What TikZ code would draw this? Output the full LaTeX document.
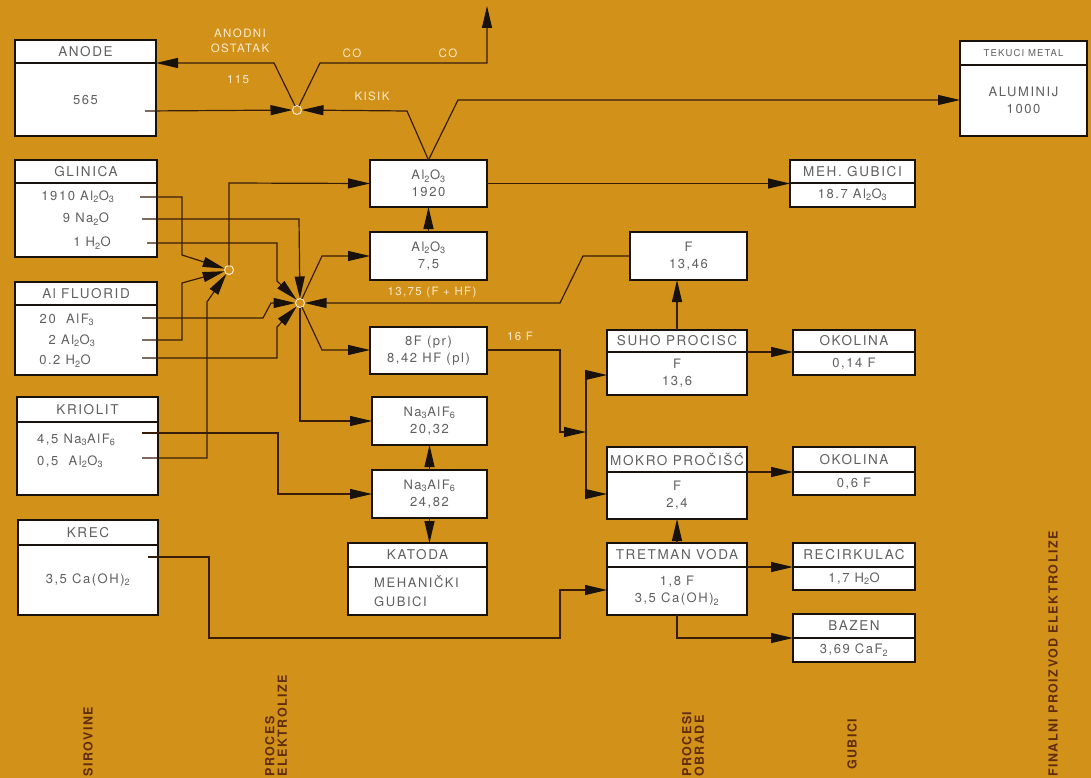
\documentclass[tikz,border=0pt]{standalone}
\usepackage{fontspec}
\setmainfont{TeX Gyre Heros}[LetterSpace=12]
\usetikzlibrary{arrows.meta}
\definecolor{bg}{RGB}{210,146,26}
\definecolor{ln}{RGB}{55,28,8}
\definecolor{bx}{RGB}{25,18,12}
\definecolor{tx}{RGB}{95,95,95}
\definecolor{lt}{RGB}{250,234,205}
\definecolor{dk}{RGB}{95,45,12}
\newcommand{\sbs}[1]{\textsubscript{#1}}
% name, x1, y1, x2, y2, ysep, header, body
\newcommand{\flowbox}[8]{%
  \node[boxst, anchor=north west, minimum width={#4-#2}, minimum height={#5-#3}] (#1) at (#2,#3) {};
  \draw[sepst] (#1.west |- 0,#6) -- (#1.east |- 0,#6);
  \node[hdrst] (#1h) at ({(#2+#4)/2},{(#3+#6)/2}) {#7};
  \node[bodyst] (#1b) at ({(#2+#4)/2},{(#6+#5)/2}) {#8};
}
% name, x1, y1, x2, y2, text
\newcommand{\plainbox}[6]{%
  \node[boxst, anchor=north west, minimum width={#4-#2}, minimum height={#5-#3}] (#1) at (#2,#3) {};
  \node[bodyst] (#1b) at ({(#2+#4)/2},{(#3+#5)/2}) {#6};
}
\begin{document}
\begin{tikzpicture}[x=1pt,y=-1pt,
  boxst/.style={draw=bx, line width=2.2pt, fill=white, inner sep=0pt, outer sep=0pt},
  sepst/.style={draw=bx, line width=2pt},
  hdrst/.style={text=tx, font=\fontsize{13.5}{15}\selectfont, inner sep=0pt},
  bodyst/.style={text=tx, font=\fontsize{13}{17}\selectfont, inner sep=0pt, align=center},
  txt/.style={text=tx, font=\fontsize{13}{15}\selectfont, inner sep=0pt},
  conn/.style={draw=ln, line width=1.2pt},
  arr/.style={conn, -{Triangle[length=22pt,width=10pt,color=bx,fill=bx]}},
  hubst/.style={circle, draw=lt, line width=1pt, fill=bg, minimum size=9pt, inner sep=0pt, outer sep=0pt},
  lab/.style={text=lt, font=\fontsize{11.5}{15}\selectfont, inner sep=0pt, align=center},
  vlab/.style={text=dk, font=\bfseries\fontsize{12.5}{12.5}\selectfont, rotate=90, anchor=west, align=left, inner sep=0pt}
]
\useasboundingbox (0,0) rectangle (1091,778);
\fill[bg] (0,0) rectangle (1091,778);

% ---------- boxes ----------
\flowbox{anode}{15}{40}{156}{136}{63}{ANODE}{565}
\flowbox{alum}{960}{41}{1087}{136}{65}{\fontsize{9.5}{11}\selectfont TEKUCI METAL}{ALUMINIJ\\1000}
\flowbox{glin}{15}{160}{157}{257}{183}{GLINICA}{}
\flowbox{fluo}{15}{282}{157}{375}{305}{Al FLUORID}{}
\flowbox{krio}{17}{397}{158}{495}{422}{KRIOLIT}{}
\flowbox{krec}{18}{520}{158}{615}{545}{KREC}{3,5 Ca(OH)\sbs{2}}

\plainbox{alA}{370}{160}{487}{207}{Al\sbs{2}O\sbs{3}\\1920}
\plainbox{alB}{370}{232}{487}{280}{Al\sbs{2}O\sbs{3}\\7,5}
\plainbox{bf}{370}{327}{487}{374}{8F (pr)\\8,42 HF (pl)}
\plainbox{naA}{372}{397}{487}{445}{Na\sbs{3}AlF\sbs{6}\\20,32}
\plainbox{naB}{372}{470}{487}{518}{Na\sbs{3}AlF\sbs{6}\\24,82}
\flowbox{kat}{348}{543}{487}{615}{567}{KATODA}{}
\node[txt, anchor=west, align=left, font=\fontsize{13}{19}\selectfont] (katt) at (374,591) {MEHANIČKI\\GUBICI};

\flowbox{meh}{790}{160}{915}{207}{183}{MEH. GUBICI}{18.7 Al\sbs{2}O\sbs{3}}
\plainbox{fF}{630}{232}{747}{280}{F\\13,46}
\flowbox{suho}{607}{330}{747}{395}{352}{SUHO PROCISC}{F\\13,6}
\flowbox{okA}{793}{330}{915}{375}{352}{OKOLINA}{0,14 F}
\flowbox{mok}{607}{447}{747}{519}{472}{MOKRO PROČIŠĆ}{F\\2,4}
\flowbox{okB}{793}{447}{915}{495}{472}{OKOLINA}{0,6 F}
\flowbox{tret}{607}{543}{747}{615}{567}{TRETMAN VODA}{1,8 F\\3,5 Ca(OH)\sbs{2}}
\flowbox{rec}{793}{543}{915}{590}{567}{RECIRKULAC}{1,7 H\sbs{2}O}
\flowbox{baz}{793}{614}{915}{662}{638}{BAZEN}{3,69 CaF\sbs{2}}

% body texts of raw material boxes
\node[txt] (g1) at (78,197) {1910 Al\sbs{2}O\sbs{3}};
\node[txt] (g2) at (86,219) {9 Na\sbs{2}O};
\node[txt] (g3) at (92,243) {1 H\sbs{2}O};
\node[txt] (f1) at (67,320) {20\ \ AlF\sbs{3}};
\node[txt] (f2) at (72,341) {2 Al\sbs{2}O\sbs{3}};
\node[txt] (f3) at (65,361) {0.2 H\sbs{2}O};
\node[txt, anchor=west] (k1) at (37,440) {4,5 Na\sbs{3}AlF\sbs{6}};
\node[txt, anchor=west] (k2) at (37,462) {0,5\ \ Al\sbs{2}O\sbs{3}};

% ---------- hubs and free ends ----------
\node[hubst] (h0) at (297,110) {};
\node[hubst] (h1) at (229,270) {};
\node[hubst] (h2) at (300,303) {};
\coordinate (coOut) at (487,6);
\coordinate (anS) at (145,111);
\coordinate (gA) at (140,197);
\coordinate (gN) at (142,219);
\coordinate (gH) at (147,243);
\coordinate (fA) at (142,318);
\coordinate (fB) at (142,340);
\coordinate (fH) at (142,358);
\coordinate (kA) at (142,433);
\coordinate (kB) at (142,458);
\coordinate (kcS) at (148,557);
\coordinate (split) at (586,432);

% ---------- connectors ----------
% anode area
\draw[arr] (anS) -- (h0);
\draw[arr] (h0) -- (274,63) -- (anode.east |- 0,63);
\draw[arr] (h0) -- (320,63) -- (487,63) -- (coOut);
\draw[arr] (alA.north) -- (407,111) -- (h0);
\draw[arr] (alA.north) -- (458,100) -- (alum.west |- 0,100);
\draw[arr] (alA.east) -- (meh.west);
\draw[arr] (alB.north) -- (alA.south);

% hub 1
\draw[arr] (gA) -- (182,197) -- (182,255) -- (h1);
\draw[arr] (fB) -- (182,340) -- (182,283) -- (h1);
\draw[arr] (kB) -- (207,458) -- (207,302) -- (h1);
\draw[arr] (h1) -- (229,183) -- (alA.west);

% hub 2
\draw[arr] (gN) -- (299,219) -- (h2);
\draw[arr] (gH) -- (277,243) -- (277,281) -- (h2);
\draw[arr] (fA) -- (263,318) -- (271,303) -- (h2);
\draw[arr] (fH) -- (277,358) -- (277,327) -- (h2);
\draw[arr] (fF.west) -- (583,256) -- (560,303) -- (h2);
\draw[arr] (h2) -- (322,256) -- (alB.west);
\draw[arr] (h2) -- (322,350) -- (bf.west |- 0,350);
\draw[arr] (h2) -- (300,421) -- (naA.west);

% cryolite
\draw[arr] (kA) -- (278,433) -- (278,494) -- (naB.west);
\draw[arr] (naB.north) -- (naA.south);
\draw[arr] (naB.south) -- (naB.south |- kat.north);

% gas cleaning
\draw[arr] (bf.east |- 0,350) -- (560,350) -- (560,432) -- (split);
\draw[arr] (split) -- (586,375) -- (suho.west |- 0,375);
\draw[arr] (split) -- (586,494) -- (mok.west |- 0,494);
\draw[arr] (suho.north) -- (suho.north |- fF.south);
\draw[arr] (suho.east |- 0,352) -- (okA.west |- 0,352);
\draw[arr] (mok.east |- 0,472) -- (okB.west |- 0,472);
\draw[arr] (tret.north) -- (mok.south);
\draw[arr] (tret.east |- 0,567) -- (rec.west |- 0,567);
\draw[arr] (tret.south) -- (677,638) -- (baz.west |- 0,638);
\draw[arr] (kcS) -- (209,557) -- (209,638) -- (560,638) -- (560,590) -- (tret.west |- 0,590);

% ---------- labels ----------
\node[lab] (lAO) at (240,41) {ANODNI\\OSTATAK};
\node[lab] (l115) at (238,80) {115};
\node[lab] (lco1) at (352,53) {CO};
\node[lab] (lco2) at (448,53) {CO};
\node[lab] (lkis) at (372,96) {KISIK};
\node[lab] (lfhf) at (432,293) {13,75 (F + HF)};
\node[lab] (l16) at (520,336) {16 F};

\node[vlab] (v1) at (88,777) {SIROVINE};
\node[vlab] (v2) at (276,777) {PROCES\\ELEKTROLIZE};
\node[vlab] (v3) at (693,777) {PROCESI\\OBRADE};
\node[vlab] (v4) at (852,770) {GUBICI};
\node[vlab] (v5) at (1053,777) {FINALNI PROIZVOD ELEKTROLIZE};
\end{tikzpicture}
\end{document}
